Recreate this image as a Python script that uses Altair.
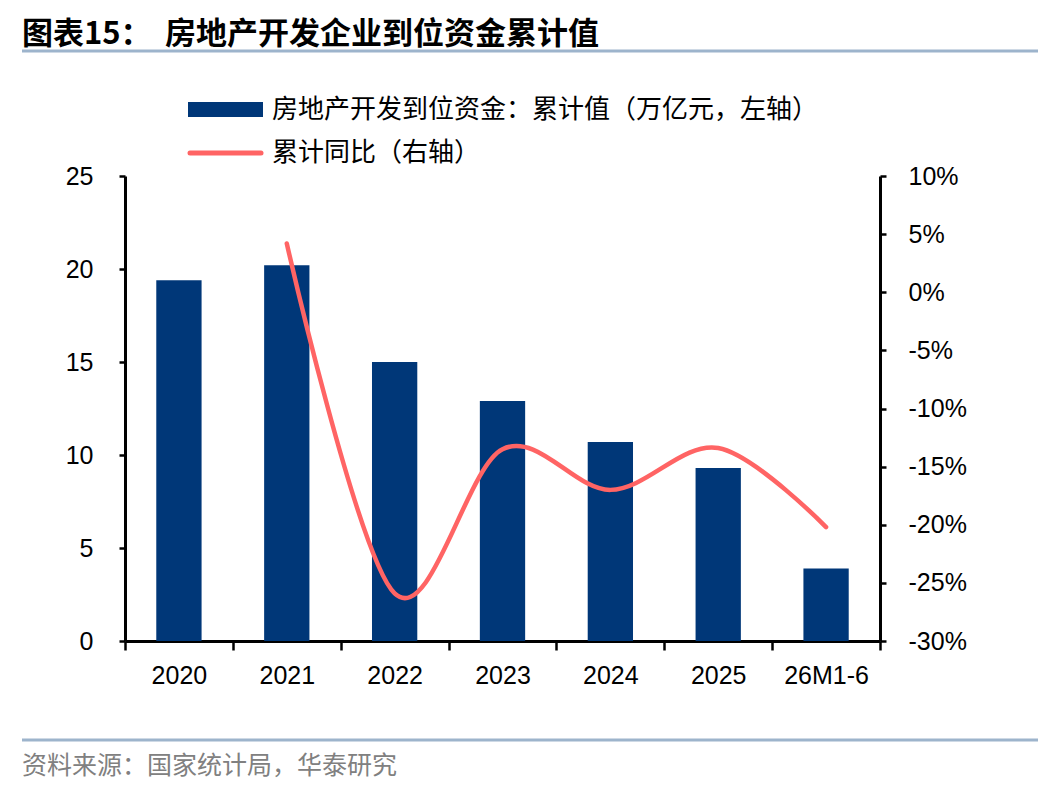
import altair as alt
import pandas as pd

categories = ["2020", "2021", "2022", "2023", "2024", "2025", "26M1-6"]
funds = [19.4, 20.2, 15.0, 12.9, 10.7, 9.3, 3.9]          # 万亿元
yoy_cats = ["2021", "2022", "2023", "2024", "2025", "26M1-6"]
yoy = [4.2, -25.9, -13.5, -17.0, -13.4, -20.2]              # %
left_ticks = [0, 5, 10, 15, 20, 25]
right_ticks = [-30, -25, -20, -15, -10, -5, 0, 5, 10]

title_a = "图表15："
title_b = "房地产开发企业到位资金累计值"
legend_bar = "房地产开发到位资金：累计值（万亿元，左轴）"
legend_line = "累计同比（右轴）"
source = "资料来源：国家统计局，华泰研究"

NAVY = "#003778"
RED = "#FF6464"
RULE = "#9DB4CC"
CJK = "Noto Sans CJK SC"
LAT = "Liberation Sans"

bar_df = pd.DataFrame({"cat": categories, "v": funds})
line_df = pd.DataFrame({"cat": yoy_cats, "v": yoy})
one = pd.DataFrame({"d": [0]})

xscale = alt.Scale(domain=categories, paddingInner=0, paddingOuter=0)
xaxis = alt.Axis(title=None, labelAngle=0, tickBand="extent", tickSize=9,
                 labelPadding=13, domainWidth=3, tickWidth=2.5)

bars = alt.Chart(bar_df).mark_bar(color=NAVY, width=alt.RelativeBandSize(0.42)).encode(
    x=alt.X("cat:N", scale=xscale, axis=xaxis, sort=categories),
    y=alt.Y("v:Q", scale=alt.Scale(domain=[0, 25], nice=False),
            axis=alt.Axis(title=None, values=left_ticks, tickSize=6, labelPadding=26,
                          orient="left")),
)

line = alt.Chart(line_df).mark_line(color=RED, strokeWidth=4.5, interpolate="cardinal",
                                    strokeCap="round").encode(
    x=alt.X("cat:N", scale=xscale, axis=xaxis, sort=categories),
    y=alt.Y("v:Q", scale=alt.Scale(domain=[-30, 10], nice=False),
            axis=alt.Axis(title=None, values=right_ticks, tickSize=6, labelPadding=22,
                          orient="right", labelExpr="datum.value + '%'")),
)

def txt(s, x, y, size, color="black", weight="normal", font=CJK):
    return alt.Chart(one).mark_text(text=s, align="left", baseline="middle", fontSize=size,
                                    font=font, color=color, fontWeight=weight).encode(
        x=alt.value(x), y=alt.value(y))

def hrule(x1, x2, y, color, w, cap="butt"):
    return alt.Chart(one).mark_rule(color=color, strokeWidth=w, strokeCap=cap).encode(
        x=alt.value(x1), x2=alt.value(x2), y=alt.value(y))

deco = [
    txt(title_a, -103, -141, 31, weight="bold"),
    txt(title_b, 40, -141, 31, weight="bold"),
    hrule(-103, 915, -125, RULE, 3),
    alt.Chart(one).mark_rect(color=NAVY).encode(
        x=alt.value(63), x2=alt.value(138), y=alt.value(-74), y2=alt.value(-59)),
    txt(legend_bar, 147, -66, 26),
    hrule(65, 136, -23, RED, 5, "round"),
    txt(legend_line, 147, -23, 26),
    hrule(-103, 915, 564, RULE, 3),
    txt(source, -103, 590, 25, color="#808080"),
]

chart = alt.layer(bars, line, *deco).resolve_scale(y="independent").properties(
    width=755, height=465,
    autosize=alt.AutoSizeParams(type="none"),
    padding={"left": 117, "top": 168, "right": 158, "bottom": 142},
).configure_view(stroke=None).configure_axis(
    labelFont=LAT, labelFontSize=25, labelColor="black", domainColor="black",
    domainWidth=3, tickColor="black", tickWidth=2.5, grid=False,
)

chart.save("out.html", embed_options={"renderer": "svg", "actions": False})
